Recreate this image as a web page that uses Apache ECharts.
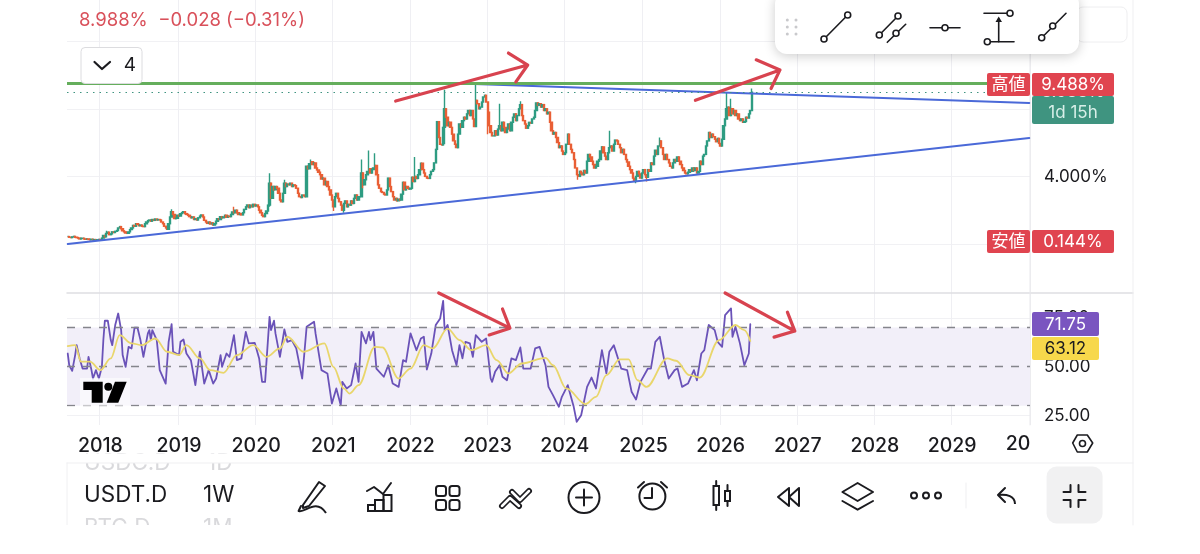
<!DOCTYPE html>
<html><head><meta charset="utf-8">
<style>html,body{margin:0;padding:0;background:#fff}#c{width:1200px;height:554px}</style>
<script src="https://cdn.jsdelivr.net/npm/echarts@6/dist/echarts.min.js"></script>
</head><body><div id="c"></div>
<script>
// ---- data ----
const startDate = '2017-07-31';
const totalWeeks = 649;
const priceTicks = [4, 8];
const closes = [
.44,.4,.38,.42,.45,.4,.38,.35,.3,.33,
.34,.3,.28,.3,.27,.25,.28,.24,.26,.22,
.25,.27,.25,.35,.5,.42,.63,.7,.55,.6,
.72,.68,.75,.8,.95,1.03,.9,.78,.72,.65,
.63,.72,.85,.95,1.1,1.05,1.2,1.15,1.08,1.12,
1.05,1.03,1.2,1.3,1.38,1.42,1.35,1.45,1.4,1.48,
1.42,1.45,1.42,1.3,1.2,1.05,.95,.87,1.2,1.6,
1.91,1.75,1.5,1.52,1.7,1.65,1.8,1.85,1.91,1.8,
1.75,1.7,1.62,1.55,1.6,1.45,1.5,1.42,1.55,1.65,
1.72,1.6,1.4,1.3,1.22,1.3,1.18,1.25,1.12,1.2,
1.35,1.5,1.45,1.62,1.55,1.6,1.7,1.58,1.65,1.62,
1.75,1.9,1.85,2.0,1.85,1.75,1.8,1.72,1.85,2.05,
2.2,2.31,2.15,2.3,2.2,2.35,2.25,2.31,2.2,2.0,
1.85,1.7,1.62,1.8,1.95,2.3,3.6,2.7,3.4,3.2,
3.4,3.3,3.0,2.6,2.5,3.0,3.6,3.4,3.55,3.5,
3.6,3.4,3.5,3.45,3.3,3.0,2.8,2.75,2.9,2.85,
2.8,4.6,4.45,4.75,4.87,4.7,4.8,4.5,4.38,4.25,
4.1,3.85,3.9,3.5,3.7,3.4,3.2,2.9,2.6,2.2,
2.8,3.0,2.7,2.5,2.3,2.0,2.4,2.55,2.2,2.35,
2.3,2.55,2.4,2.7,2.9,2.6,2.8,2.8,4.2,3.5,
3.8,4.1,4.3,4.45,4.2,4.4,4.5,4.65,4.1,3.5,
3.3,3.1,3.05,2.95,2.9,3.2,3.9,3.4,3.1,2.8,
2.6,2.7,2.55,2.65,2.6,2.95,3.65,3.2,3.4,3.3,
3.25,3.3,3.95,3.7,4.0,3.88,4.1,4.4,4.78,4.4,
4.2,4.0,3.9,3.88,4.1,4.3,4.4,4.8,5.6,7.24,
6.3,5.9,5.86,6.9,8.0,7.5,7.0,7.2,6.9,6.5,
6.1,5.9,5.7,6.5,7.1,6.9,7.3,7.5,7.4,7.7,
7.9,7.6,7.9,7.4,6.95,8.5,8.3,8.0,8.1,8.4,
8.7,8.8,8.4,7.8,7.0,6.6,6.4,6.4,6.7,6.45,
6.8,7.0,6.7,7.2,6.9,6.6,6.8,7.1,6.7,7.2,
7.5,7.7,7.3,7.6,8.0,8.25,7.6,7.3,7.1,6.85,
7.0,7.2,7.15,7.4,7.5,7.9,8.35,8.2,8.3,8.1,
8.25,7.9,8.0,7.7,7.8,7.2,6.7,6.5,6.6,6.3,
6.0,5.7,5.8,5.5,5.3,5.4,5.9,6.5,5.9,5.6,
5.4,5.0,4.5,4.1,4.0,4.3,4.2,4.1,4.35,4.2,
4.9,5.3,5.15,4.9,4.7,4.5,4.6,4.9,5.0,5.5,
5.75,5.4,5.2,5.0,5.4,5.7,5.8,5.5,5.9,6.15,
6.1,5.9,5.7,5.4,5.6,5.3,5.0,4.85,4.6,4.4,
4.2,3.9,3.75,4.0,4.3,4.15,3.9,4.2,4.4,4.1,
3.95,4.4,4.3,4.8,4.7,5.2,5.55,5.3,5.8,6.1,
5.7,5.3,5.0,5.3,5.0,4.8,4.6,4.5,4.8,5.0,
4.9,5.15,4.9,4.7,4.5,4.35,4.2,4.15,4.25,4.4,
4.3,4.5,4.35,4.5,4.2,4.3,4.9,4.7,5.2,5.3,
5.8,6.1,6.6,6.3,6.5,6.35,6.2,6.05,6.25,5.95,
5.8,6.2,7.0,7.4,8.0,8.1,7.6,8.0,7.7,7.9,
7.6,7.7,7.4,7.3,7.4,7.2,7.25,7.5,7.45,7.7,
7.9,8.988];
const highSpikes = {26:.78,70:2.05,112:2.2,136:4.18,146:3.8,164:5.0,198:5.0,203:5.53,207:5.37,234:5.15,254:9.13,275:9.41,291:8.3,305:8.45,365:6.7,399:6.3,444:9.0,447:8.6,461:9.2};
const lowSpikes = {136:2.2,161:3.0,179:1.95,186:1.85,254:5.9,199:3.3,283:6.5,344:3.8,383:3.6,390:3.7};
const rsiWeeks = [0,1,3,5,6,8,10,13,14,16,17,19,21,23,24,25,27,29,30,32,34,36,37,39,41,43,45,47,49,51,54,55,56,57,60,62,66,68,70,71,75,76,78,80,83,86,89,92,95,98,100,103,104,107,109,112,114,117,120,122,126,129,131,133,136,137,139,140,143,146,148,151,154,158,161,166,167,171,175,178,181,184,185,188,191,194,196,198,201,203,204,206,208,213,216,219,223,226,228,231,232,235,238,240,242,245,248,251,253,254,256,259,262,264,266,268,271,273,275,279,282,285,286,288,291,293,296,299,302,305,307,312,315,318,322,324,327,331,333,337,341,343,346,350,353,356,360,363,365,368,373,377,380,383,386,391,393,396,399,402,405,409,411,414,418,422,424,427,429,432,436,438,441,443,447,448,450,453,456,459,460];
const rsiValues = [56.7,50.7,47.8,55.9,61,54.2,49,49,55,48.2,43.9,48.2,43.9,49.9,63.6,73.5,73.5,63.6,61,71.3,77.2,68.7,55.9,49.9,60.1,59.3,69.9,69.9,63.6,55,67,68.7,63.6,68.7,63.6,48.2,41.3,62.7,71.8,57.6,55.9,62.7,63.9,56.7,53.3,40.5,57.6,41.3,48.2,41.3,43.9,55.9,49.9,56.7,55,66.1,53.3,54.2,67.8,61.9,62.2,54.2,42.2,42.2,75.5,68.7,73.5,67,55,69,62.7,63.6,59.3,43.9,70.4,73,67,48.2,46.5,31.1,38.8,30.2,42.2,38.8,40.5,51.6,42.2,67.8,61.9,67.8,63.6,67.8,49,44.8,50.7,41.3,39.6,53.3,52.5,67,67.8,58.4,64.4,65.3,48.5,56.7,71.3,74.7,83.7,68.7,71.3,58.4,50.7,61,54.2,62.7,61.9,55,66.1,62.7,64.4,43.9,42.2,47.3,50.7,44.8,43,54.2,53.3,59.8,49,49,59.3,60.1,50.7,39.6,35.4,29.4,34.5,40.5,29.4,21.7,25.1,39.6,44.4,38.8,58.4,46.5,57.6,61,49,48.2,37.1,33.1,42.2,49,49,62.7,65.3,53.3,43.9,48.2,49,39.6,41.3,48.2,43,56.7,58.4,71.3,68.7,62.7,60.1,76.4,79.8,65.3,70.4,61.9,50.7,56.7,71.75];
const maWeeks = [0,5,9,15,22,29,35,43,50,59,67,75,80,89,96,105,114,125,134,143,148,159,173,179,186,190,196,207,212,223,231,240,246,256,264,272,282,289,297,306,322,327,336,349,356,363,372,378,384,390,404,410,419,426,439,450,456,460];
const maValues = [60.5,61,52.5,52.5,48.2,54.2,66.1,61.9,61,64.4,57.6,55.9,61,54.2,48.2,46.8,55.9,61,55,59.3,65.3,57.6,61.9,49.9,38.8,36.2,40.5,60.1,59.8,43.9,49,61,59.3,69.5,63.6,58.4,61,53.3,46.5,51.6,54.5,50.7,38.8,30.8,34.5,45.6,53.7,53.7,43,39.6,54.2,53,45.6,44.4,63.6,71.3,68.7,63.12];
const rsiLevels = [70, 50, 30];
const resistance = [[274.4, 9.47], [648.4, 8.34]];
const support = [[-0.5, 0.0], [648.4, 6.27]];
const highLevel = 9.488, lastLevel = 8.988;
const arrowPriceA = [[221.2,8.46],[309.5,10.59],[297.3,11.3],[309.5,10.59],[302,9.59]];
const arrowPriceB = [[423,8.5],[480,10.3],[463.5,10.9],[480,10.3],[473.5,9.2]];
const arrowRsiA = [[249.5,87.7],[298,69.7],[293.3,79.5],[298,69.7],[283.9,66.2]];
const arrowRsiB = [[442.9,87.7],[490,68.2],[485.4,77.9],[490,68.2],[476,65.1]];

// ---- build ----
const DAY = 86400000, t0 = new Date(startDate + 'T00:00:00Z').getTime();
const weeks = Array.from({length: totalWeeks}, (_, i) => new Date(t0 + i * 7 * DAY).toISOString().slice(0, 10));
const isYearStart = i => i > 0 && i < totalWeeks - 1 && weeks[i].slice(0, 4) !== weeks[i - 1].slice(0, 4);
const isYearLabel = i => isYearStart(i) && +weeks[i].slice(0, 4) <= 2029;
const candles = closes.map((c, i) => {
  const o = i ? closes[i - 1] : c;
  const lo = Math.min(o, c, lowSpikes[i] ?? 99), hi = Math.max(o, c, highSpikes[i] ?? 0);
  return [o, c, lo, hi];
});
const rsi = rsiWeeks.map((w, i) => [w, rsiValues[i]]);
const ma = maWeeks.map((w, i) => [w, maValues[i]]);
const FONT = 'Inter, "Noto Sans CJK JP", sans-serif';
const ink = '#1b1b1f';

const G = [];
const L = (pts, s = {}) => G.push({type: 'polyline', z: s.z || 100, shape: {points: pts}, style: {fill: 'none', stroke: s.c || ink, lineWidth: s.w || 2, lineCap: 'round', lineJoin: 'round'}});
const C = (x, y, r, s = {}) => G.push({type: 'circle', z: s.z || 100, shape: {cx: x, cy: y, r}, style: {fill: s.f === undefined ? '#fff' : s.f, stroke: s.c === undefined ? ink : s.c, lineWidth: s.w || 1.6}});
const R = (x, y, w, h, f, s = {}) => G.push({type: 'rect', z: s.z || 100, shape: {x, y, width: w, height: h, r: s.r || 0}, style: {fill: f, stroke: s.c, lineWidth: s.w || 1, shadowBlur: s.sb || 0, shadowColor: s.sc, shadowOffsetY: s.sy || 0}});
const T = (text, x, y, size, fill, s = {}) => G.push({type: 'text', z: s.z || 101, style: {text, x, y, fill, font: `${s.b || 400} ${size}px ${FONT}`, textAlign: s.a || 'left', textVerticalAlign: 'middle'}});
const P = (pts, f, s = {}) => G.push({type: 'polygon', z: s.z || 100, shape: {points: pts}, style: {fill: f, stroke: s.c, lineWidth: s.w || 1, lineJoin: 'round'}});

// frame lines
L([[67, 293], [1133, 293]], {c: '#dedee2', w: 1.5, z: 1});
L([[1030, 0], [1030, 425]], {c: '#e9e9ec', w: 1, z: 1});
L([[1133, 0], [1133, 525]], {c: '#efeff1', w: 1, z: 1});
L([[67, 463], [67, 525]], {c: '#f0f0f2', w: 1, z: 1});

// header
T('8.988%  \u22120.028 (\u22120.31%)', 79, 20, 18.5, '#d9505a');
R(81, 47.5, 61, 36, '#fff', {r: 4, c: '#dcdcdf'});
L([[94.5, 62], [102, 69], [110, 62]], {w: 2.2});
T('4', 130, 65, 19, ink, {a: 'center'});

// price tags
R(987, 73, 43, 23, '#e0444f', {r: 2, z: 110});
T('高値', 1008.5, 84.5, 17, '#fff', {a: 'center', z: 111});
R(1032, 96, 82, 28, '#3f9480', {r: 2, z: 110});
T('8.988%', 1073, 92, 17, '#d8efe8', {a: 'center', z: 111});
T('1d 15h', 1073, 113, 17, '#d8efe8', {a: 'center', z: 111});
R(1032, 73, 82, 23, '#e0444f', {r: 2, z: 112});
T('9.488%', 1073, 85, 17, '#fff', {a: 'center', z: 113});
R(987, 230, 43, 23, '#e0444f', {r: 2, z: 110});
T('安値', 1008.5, 241.5, 17, '#fff', {a: 'center', z: 111});
R(1032, 230, 82, 23, '#e0444f', {r: 2, z: 110});
T('0.144%', 1073, 241.5, 17, '#fff', {a: 'center', z: 111});
R(1032, 312, 67, 24, '#7a55c0', {r: 2, z: 110});
T('71.75', 1065.5, 325, 17, '#fff', {a: 'center', z: 111});
R(1032, 337, 67, 23, '#f7d84b', {r: 2, z: 110});
T('63.12', 1065.5, 349, 17, ink, {a: 'center', z: 111});

// floating drawing toolbar
R(1077, 7, 50, 35, '#fff', {r: 6, c: '#eeeef0', z: 90});
R(775, -8, 304, 62, '#fff', {r: 12, sb: 12, sc: 'rgba(0,0,0,.2)', sy: 2, z: 95});
[787.3, 796].forEach(x => [20, 27, 34].forEach(y => C(x, y, 1.5, {f: '#c9c9cc', c: null})));
L([[824, 39], [847.7, 15]], {w: 1.6}); C(824, 39, 3); C(847.7, 15, 3);
L([[879.3, 35], [898, 16]], {w: 1.6}); C(879.3, 35, 3); C(898, 16, 3);
L([[887.3, 42.3], [905.7, 24.3]], {w: 1.6}); C(896, 33.3, 3);
L([[930, 27.7], [960, 27.7]], {w: 1.6}); C(945, 27.7, 3);
L([[984, 13.3], [1008, 13.3]], {w: 1.6}); C(1010, 13.3, 3);
L([[990, 41.7], [1014, 41.7]], {w: 1.6}); C(987.3, 41.7, 3);
L([[998.7, 41.7], [998.7, 19]], {w: 1.6}); P([[995.5, 22], [998.7, 16.5], [1002, 22]], ink);
L([[1041.7, 37.7], [1066, 13.3]], {w: 1.6}); C(1041.7, 37.7, 3); C(1052.7, 26, 3);

// TradingView mark
R(80, 378, 50, 28, 'rgba(255,255,255,.55)', {z: 60});
P([[83.3, 381.7], [102.7, 381.7], [102.7, 402.7], [91.7, 402.7], [91.7, 390], [83.3, 390]], '#000', {z: 61});
C(108.3, 386.7, 4, {f: '#000', c: null, z: 61});
P([[115, 381.7], [126.7, 381.7], [118.3, 402.7], [106.7, 402.7]], '#000', {z: 61});

// axis end
T('20', 1018, 444.5, 19.5, ink, {a: 'center', b: 500});
P([[1072.7, 443], [1077.3, 435], [1087.3, 435], [1092.7, 443], [1087.3, 452], [1077.3, 452]], 'none', {c: ink, w: 1.6});
C(1082.5, 443.5, 3, {f: 'none'});

// bottom bar
T('USDC.D', 84, 463, 22.5, '#d9d9dc'); T('1D', 207, 463, 22.5, '#d9d9dc');
T('BTC.D', 84, 528, 22.5, '#d9d9dc'); T('1M', 203, 528, 22.5, '#d9d9dc');
R(68, 453.5, 300, 9.5, '#fff', {z: 102});
R(60, 525, 300, 20, '#fff', {z: 102});
L([[67, 463], [1133, 463]], {c: '#efeff1', w: 1, z: 103});
T('USDT.D', 84, 495, 22.5, ink); T('1W', 203, 495, 22.5, ink);

// pen
P([[303, 505], [319, 482], [325, 486], [309, 506], [303, 508]], 'none', {c: ink, w: 2});
L([[298.6, 511], [301, 506]]);
G.push({type: 'bezierCurve', z: 100, shape: {x1: 299, y1: 511, x2: 326, y2: 513, cpx1: 305, cpy1: 513, cpx2: 316, cpy2: 498}, style: {fill: 'none', stroke: ink, lineWidth: 2}});
// chart icon
L([[367, 491], [374, 487], [383, 494], [391, 483]]);
R(368, 505, 7, 6, 'none', {c: ink, w: 2}); R(375, 500, 8.5, 11, 'none', {c: ink, w: 2}); R(383.5, 495, 8, 16, 'none', {c: ink, w: 2});
// grid
[[436, 486], [449.5, 486], [436, 500], [449.5, 500]].forEach(p => R(p[0], p[1], 10, 10, 'none', {c: ink, w: 2, r: 2.5}));
// zigzag
L([[502, 506], [510, 498], [519, 506]], {w: 6}); L([[502, 506], [510, 498], [519, 506]], {w: 2.5, c: '#fff'});
L([[512, 492], [520, 500], [529, 491]], {w: 6}); L([[512, 492], [520, 500], [529, 491]], {w: 2.5, c: '#fff'});
// plus
C(584, 497.5, 15.5, {w: 2}); L([[576, 497.5], [592, 497.5]]); L([[584, 489.5], [584, 505.5]]);
// clock
C(652.4, 496.5, 13, {w: 2}); L([[652, 488], [652, 498], [644.5, 498]]); L([[638, 487.5], [644, 482]]); L([[661, 482], [667, 487.5]]);
// candles icon
R(713.5, 486, 5.5, 19, 'none', {c: ink, w: 2}); L([[716.2, 481], [716.2, 486]]); L([[716.2, 505], [716.2, 510]]);
R(725, 491, 5, 10, 'none', {c: ink, w: 2}); L([[727.5, 485], [727.5, 491]]); L([[727.5, 501], [727.5, 506]]);
// rewind
P([[778, 497], [789, 488], [789, 506]], 'none', {c: ink, w: 2});
P([[789, 497], [799, 488], [799, 506]], 'none', {c: ink, w: 2});
// layers
P([[842.4, 492], [857.6, 483], [873, 492], [857.6, 501]], 'none', {c: ink, w: 2});
L([[842.4, 501], [857.6, 509.7], [873, 501]]);
// more
[914, 926, 938].forEach(x => C(x, 495.5, 3, {w: 2}));
L([[966, 483], [966, 508]], {c: '#efeff1', w: 1});
// undo
L([[1005, 488], [998, 495], [1005, 502]]);
G.push({type: 'bezierCurve', z: 100, shape: {x1: 998, y1: 495, x2: 1015, y2: 504, cpx1: 1007, cpy1: 494, cpx2: 1015, cpy2: 496}, style: {fill: 'none', stroke: ink, lineWidth: 2}});
// exit fullscreen
R(1046.6, 466.5, 56, 57, '#f1f1f2', {r: 10});
[[-1, -1], [1, -1], [-1, 1], [1, 1]].forEach(([a, b]) => L([[1074.5 + a * 11, 496 + b * 4], [1074.5 + a * 4, 496 + b * 4], [1074.5 + a * 4, 496 + b * 11]]));

const lineS = (name, x, data, color, width, extra = {}) => Object.assign({
  type: 'line', name, xAxisIndex: x, yAxisIndex: x, data, showSymbol: false, symbol: 'none', silent: true,
  lineStyle: {color, width, cap: 'round', join: 'round'}, animation: false
}, extra);

const option = {
  animation: false,
  backgroundColor: '#fff',
  grid: [
    {left: 67, width: 963, top: 0, height: 425},
    {left: 67, width: 963, top: 0, height: 244},
    {left: 67, width: 963, top: 269, height: 195.2}
  ],
  xAxis: [
    {gridIndex: 0, type: 'category', data: weeks, axisLine: {show: false}, axisTick: {show: false},
     splitLine: {show: true, interval: (i) => isYearStart(i), lineStyle: {color: '#efeff3', width: 1}},
     axisLabel: {interval: (i) => isYearLabel(i), formatter: v => v.slice(0, 4), margin: 11, fontSize: 19.5, fontWeight: 500, color: ink, fontFamily: FONT, hideOverlap: false}},
    {gridIndex: 1, type: 'category', data: weeks, show: false},
    {gridIndex: 2, type: 'category', data: weeks, show: false}
  ],
  yAxis: [
    {gridIndex: 0, type: 'value', show: false, min: 0, max: 1},
    {gridIndex: 1, type: 'value', position: 'right', min: 0, max: 14.438, interval: 4,
     axisLine: {show: false}, axisTick: {show: false},
     splitLine: {showMaxLine: false, lineStyle: {color: '#f1f1f4', width: 1}},
     axisLabel: {margin: 14, fontSize: 17, color: ink, fontFamily: FONT, showMaxLabel: false,
       formatter: v => priceTicks.includes(v) ? v.toFixed(3) + '%' : ''}},
    {gridIndex: 2, type: 'value', position: 'right', min: 0, max: 100, interval: 25,
     axisLine: {show: false}, axisTick: {show: false},
     splitLine: {showMinLine: false, showMaxLine: false, lineStyle: {color: '#f1f1f4', width: 1}},
     axisLabel: {margin: 14, fontSize: 17, color: ink, fontFamily: FONT, showMinLabel: false, showMaxLabel: false,
       formatter: v => v.toFixed(2)}}
  ],
  series: [
    {type: 'candlestick', xAxisIndex: 1, yAxisIndex: 1, data: candles, barWidth: 1.8, silent: true, z: 3,
     itemStyle: {color: '#2e9c82', color0: '#e95f35', borderColor: '#2e9c82', borderColor0: '#e95f35', borderWidth: 1.4},
     markLine: {silent: true, symbol: 'none', label: {show: false}, animation: false, data: [
       {yAxis: highLevel, lineStyle: {color: '#65ae5c', width: 3, type: 'solid'}},
       {yAxis: lastLevel, lineStyle: {color: '#3f9480', width: 1.2, type: [1.5, 5]}}
     ]}},
    lineS('resistance', 1, resistance, '#4a69d8', 2, {z: 4}),
    lineS('support', 1, support, '#4a69d8', 2, {z: 4}),
    lineS('arrow1', 1, arrowPriceA, '#d8434f', 3.2, {z: 6, clip: false}),
    lineS('arrow2', 1, arrowPriceB, '#d8434f', 3.2, {z: 6, clip: false}),
    lineS('RSI', 2, rsi, '#6a52b8', 1.8, {z: 4,
      markArea: {silent: true, itemStyle: {color: '#f2eff9'}, data: [[{yAxis: rsiLevels[2]}, {yAxis: rsiLevels[0]}]]},
      markLine: {silent: true, symbol: 'none', label: {show: false}, animation: false,
        lineStyle: {color: '#85858c', width: 1.3, type: [8, 8]}, data: rsiLevels.map(v => ({yAxis: v}))}}),
    lineS('RSI MA', 2, ma, '#e9d66b', 1.8, {z: 5, smooth: 0.35, smoothMonotone: 'x'}),
    lineS('arrow3', 2, arrowRsiA, '#d8434f', 3.2, {z: 6, clip: false}),
    lineS('arrow4', 2, arrowRsiB, '#d8434f', 3.2, {z: 6, clip: false})
  ],
  graphic: {elements: G}
};
const chart = echarts.init(document.getElementById('c'), null, {renderer: 'canvas', width: 1200, height: 554});
chart.setOption(option);
</script></body></html>
